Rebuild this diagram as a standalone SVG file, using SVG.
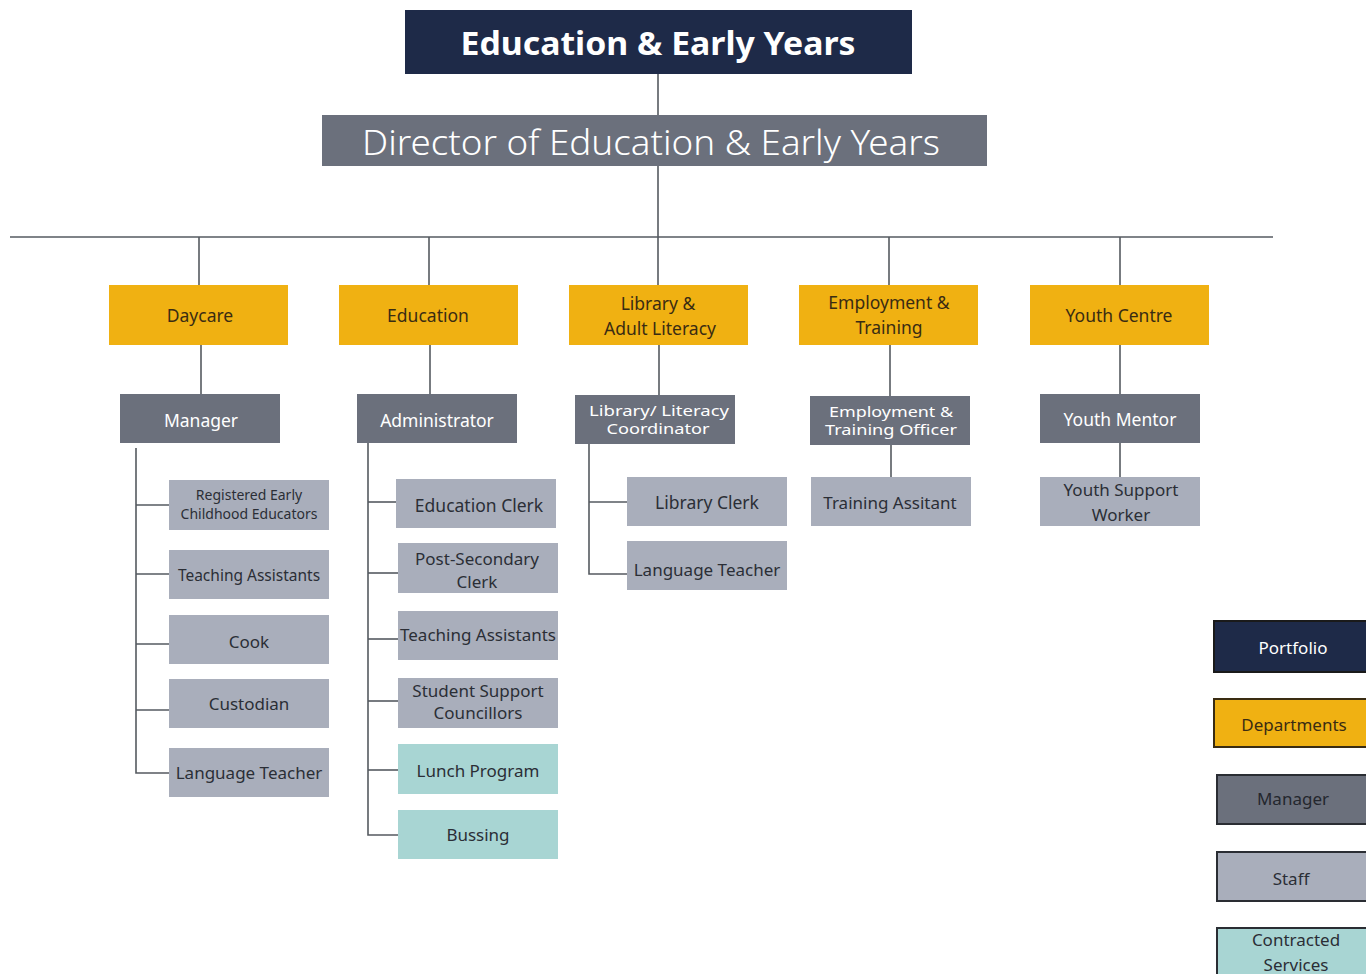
<svg xmlns="http://www.w3.org/2000/svg" width="1366" height="974" viewBox="0 0 1366 974">
<style>
text{font-family:"Noto Sans","Open Sans","Liberation Sans",sans-serif;text-anchor:middle;dominant-baseline:central}
.port{fill:#1e2a48}
.dir{fill:#6b707c}
.dept{fill:#f0b112}
.mgr{fill:#6b707c}
.staff{fill:#a9aebb}
.contr{fill:#a8d5d3}
.tw{fill:#ffffff}
.td{fill:#3a2c12}
.ts{fill:#2b2e36}
.lg{stroke:#1a1a1a;stroke-width:2}
.conn line,.conn path{stroke:#555a60;stroke-width:1.6;fill:none}
.f18{font-size:17.5px}
.f17{font-size:17px}
.f15{font-size:15px}
.f14{font-size:14px}
</style>
<rect width="1366" height="974" fill="#ffffff"/>
<g class="conn">
<line x1="658" y1="74" x2="658" y2="115"/>
<line x1="658" y1="166" x2="658" y2="237"/>
<line x1="10" y1="237" x2="1273" y2="237"/>
<line x1="199" y1="237" x2="199" y2="285"/>
<line x1="429" y1="237" x2="429" y2="285"/>
<line x1="658" y1="237" x2="658" y2="285"/>
<line x1="889" y1="237" x2="889" y2="285"/>
<line x1="1120" y1="237" x2="1120" y2="285"/>
<line x1="201" y1="345" x2="201" y2="394"/>
<line x1="430" y1="345" x2="430" y2="394"/>
<line x1="659" y1="345" x2="659" y2="395"/>
<line x1="890" y1="345" x2="890" y2="396"/>
<line x1="1120" y1="345" x2="1120" y2="394"/>
<path d="M136 448 V773 H169"/>
<line x1="136" y1="505" x2="169" y2="505"/>
<line x1="136" y1="574" x2="169" y2="574"/>
<line x1="136" y1="644" x2="169" y2="644"/>
<line x1="136" y1="710" x2="169" y2="710"/>
<path d="M368 443 V835 H398"/>
<line x1="368" y1="502" x2="396" y2="502"/>
<line x1="368" y1="573" x2="398" y2="573"/>
<line x1="368" y1="639" x2="398" y2="639"/>
<line x1="368" y1="701" x2="398" y2="701"/>
<line x1="368" y1="770" x2="398" y2="770"/>
<path d="M589 444 V574 H627"/>
<line x1="589" y1="502" x2="627" y2="502"/>
<line x1="891" y1="445" x2="891" y2="477"/>
<line x1="1120" y1="443" x2="1120" y2="477"/>
</g>
<g id="portfolio"><rect class="port" x="405" y="10" width="507" height="64"/><text class="tw" x="658" y="42" font-size="33" font-weight="bold" textLength="395" lengthAdjust="spacingAndGlyphs">Education &amp; Early Years</text></g>
<g id="director"><rect class="dir" x="322" y="115" width="665" height="51"/><text class="tw" x="651" y="142" font-size="34" font-weight="300" textLength="578" lengthAdjust="spacingAndGlyphs">Director of Education &amp; Early Years</text></g>
<g id="daycare"><rect class="dept" x="109" y="285" width="179" height="60"/><text class="td f18" x="200" y="315">Daycare</text></g>
<g id="education"><rect class="dept" x="339" y="285" width="179" height="60"/><text class="td f18" x="428" y="315">Education</text></g>
<g id="library"><rect class="dept" x="569" y="285" width="179" height="60"/><text class="td f18" x="658" y="303">Library &amp;</text><text class="td f18" x="660" y="328">Adult Literacy</text></g>
<g id="employment"><rect class="dept" x="799" y="285" width="179" height="60"/><text class="td f18" x="889" y="302">Employment &amp;</text><text class="td f18" x="889" y="327">Training</text></g>
<g id="youth"><rect class="dept" x="1030" y="285" width="179" height="60"/><text class="td f18" x="1119" y="315">Youth Centre</text></g>
<g id="manager"><rect class="mgr" x="120" y="394" width="160" height="49"/><text class="tw f18" x="201" y="420">Manager</text></g>
<g id="administrator"><rect class="mgr" x="357" y="394" width="160" height="49"/><text class="tw f18" x="437" y="420">Administrator</text></g>
<g id="lib-coord"><rect class="mgr" x="575" y="395" width="160" height="49"/><text class="tw f15" x="659" y="410" textLength="140" lengthAdjust="spacingAndGlyphs">Library/ Literacy</text><text class="tw f15" x="658" y="428" textLength="103" lengthAdjust="spacingAndGlyphs">Coordinator</text></g>
<g id="emp-officer"><rect class="mgr" x="810" y="396" width="160" height="49"/><text class="tw f15" x="891" y="411" textLength="124" lengthAdjust="spacingAndGlyphs">Employment &amp;</text><text class="tw f15" x="891" y="429" textLength="132" lengthAdjust="spacingAndGlyphs">Training Officer</text></g>
<g id="youth-mentor"><rect class="mgr" x="1040" y="394" width="160" height="49"/><text class="tw f18" x="1120" y="419">Youth Mentor</text></g>
<g id="rece"><rect class="staff" x="169" y="480" width="160" height="50"/><text class="ts f14" x="249" y="494">Registered Early</text><text class="ts f14" x="249" y="513">Childhood Educators</text></g>
<g id="dc-ta"><rect class="staff" x="169" y="550" width="160" height="49"/><text class="ts" font-size="15.5" x="249" y="575">Teaching Assistants</text></g>
<g id="cook"><rect class="staff" x="169" y="615" width="160" height="49"/><text class="ts f17" x="249" y="641">Cook</text></g>
<g id="custodian"><rect class="staff" x="169" y="679" width="160" height="49"/><text class="ts f17" x="249" y="703">Custodian</text></g>
<g id="dc-lang"><rect class="staff" x="169" y="748" width="160" height="49"/><text class="ts f17" x="249" y="772">Language Teacher</text></g>
<g id="edu-clerk"><rect class="staff" x="396" y="479" width="160" height="49"/><text class="ts f18" x="479" y="505">Education Clerk</text></g>
<g id="post-sec"><rect class="staff" x="398" y="543" width="160" height="50"/><text class="ts f17" x="477" y="558">Post-Secondary</text><text class="ts f17" x="477" y="581">Clerk</text></g>
<g id="edu-ta"><rect class="staff" x="398" y="611" width="160" height="49"/><text class="ts f17" x="478" y="634">Teaching Assistants</text></g>
<g id="ssc"><rect class="staff" x="398" y="678" width="160" height="50"/><text class="ts f17" x="478" y="690">Student Support</text><text class="ts f17" x="478" y="712">Councillors</text></g>
<g id="lunch"><rect class="contr" x="398" y="744" width="160" height="50"/><text class="ts f17" x="478" y="770">Lunch Program</text></g>
<g id="bussing"><rect class="contr" x="398" y="810" width="160" height="49"/><text class="ts f17" x="478" y="834">Bussing</text></g>
<g id="lib-clerk"><rect class="staff" x="627" y="477" width="160" height="49"/><text class="ts f18" x="707" y="502">Library Clerk</text></g>
<g id="lib-lang"><rect class="staff" x="627" y="541" width="160" height="49"/><text class="ts f17" x="707" y="569">Language Teacher</text></g>
<g id="training-asst"><rect class="staff" x="811" y="477" width="160" height="49"/><text class="ts f17" x="890" y="502">Training Assitant</text></g>
<g id="youth-support"><rect class="staff" x="1040" y="477" width="160" height="49"/><text class="ts f17" x="1121" y="489">Youth Support</text><text class="ts f17" x="1121" y="514">Worker</text></g>
<g id="legend">
<g id="lg-portfolio"><rect class="port lg" x="1214" y="621" width="160" height="51"/><text class="tw f17" x="1293" y="647">Portfolio</text></g>
<g id="lg-departments"><rect class="dept lg" x="1214" y="699" width="160" height="48" style="stroke:#3a2c12"/><text class="td f17" x="1294" y="724">Departments</text></g>
<g id="lg-manager"><rect class="mgr lg" x="1217" y="775" width="160" height="49" style="stroke:#2a2d33"/><text class="f17" fill="#24272e" x="1293" y="798">Manager</text></g>
<g id="lg-staff"><rect class="staff lg" x="1217" y="852" width="160" height="49" style="stroke:#2a2d33"/><text class="ts f17" x="1291" y="878">Staff</text></g>
<g id="lg-contracted"><rect class="contr lg" x="1217" y="928" width="160" height="60" style="stroke:#2a2d33"/><text class="ts f17" x="1296" y="939">Contracted</text><text class="ts f17" x="1296" y="964">Services</text></g>
</g>
</svg>
